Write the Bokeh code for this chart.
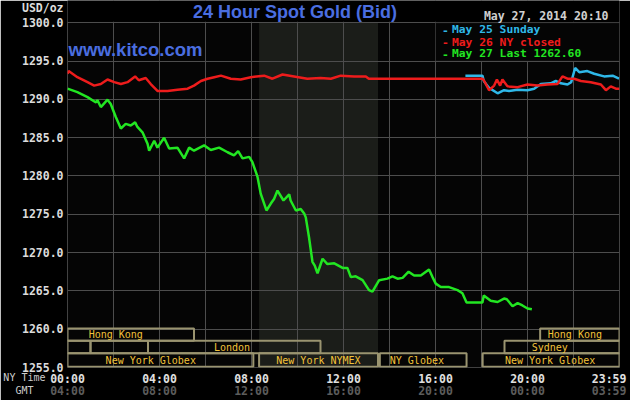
from bokeh.plotting import figure
from bokeh.models import (Range1d, LinearAxis, FixedTicker, BoxAnnotation, Label, Title,
                          PrintfTickFormatter, ColumnDataSource)
from bokeh.core.properties import value
from bokeh.embed import file_html
from bokeh.resources import INLINE

# ---------------- data ----------------
title_text = "24 Hour Spot Gold (Bid)"
site_text = "www.kitco.com"
date_text = "May 27, 2014 20:10"
y_unit = "USD/oz"
row_names = ["NY Time", "GMT"]

y_ticks = [1255, 1260, 1265, 1270, 1275, 1280, 1285, 1290, 1295, 1300]
ny_tick_hours = [0, 4, 8, 12, 16, 20, 23.55]
ny_tick_labels = ["00:00", "04:00", "08:00", "12:00", "16:00", "20:00", "23:59"]
gmt_tick_labels = ["04:00", "08:00", "12:00", "16:00", "20:00", "00:00", "03:59"]

legend_labels = ["May 25 Sunday", "May 26 NY closed", "May 27 Last 1262.60"]

# May 27 (green)
green_h = [0.0, 0.43, 0.87, 1.24, 1.3, 1.45, 1.74, 1.88, 2.1, 2.32,
           2.53, 2.75, 2.94, 3.04, 3.26, 3.48, 3.55, 3.77, 3.91, 4.2,
           4.42, 4.78, 5.07, 5.29, 5.5, 5.94, 6.23, 6.59, 6.96, 7.24,
           7.42, 7.61, 7.9, 8.04, 8.26, 8.4, 8.65, 8.84, 8.98, 9.13,
           9.39, 9.64, 9.7, 9.93, 10.14, 10.29, 10.36, 10.5, 10.65, 10.75,
           10.87, 11.09, 11.3, 11.6, 11.96, 12.17, 12.32, 12.53, 12.83, 13.11,
           13.26, 13.55, 13.91, 14.13, 14.35, 14.57, 14.83, 15.07, 15.36, 15.72,
           15.87, 16.01, 16.23, 16.59, 16.96, 17.17, 17.35, 18.04, 18.1, 18.4,
           18.7, 18.98, 19.1, 19.35, 19.57, 19.78, 20.0, 20.19]
green_p = [1291.4, 1290.95, 1290.3, 1289.6, 1289.9, 1289.0, 1289.96, 1289.4, 1287.7, 1286.2,
           1286.8, 1286.6, 1287.0, 1286.4, 1285.7, 1284.2, 1283.3, 1284.6, 1283.7, 1285.0,
           1283.6, 1283.7, 1282.3, 1283.7, 1283.3, 1284.0, 1283.4, 1283.7, 1283.1, 1282.7,
           1283.25, 1282.3, 1282.5, 1281.8, 1279.9, 1277.7, 1275.5, 1276.4, 1277.0, 1278.1,
           1276.8, 1277.6, 1276.8, 1275.5, 1275.7, 1275.1, 1274.6, 1272.0, 1268.8, 1268.3,
           1267.3, 1269.2, 1268.5, 1268.6, 1268.0, 1268.0, 1266.8, 1266.9, 1266.4, 1265.1,
           1264.9, 1266.4, 1266.6, 1266.9, 1266.6, 1266.7, 1267.5, 1267.0, 1267.0, 1267.8,
           1266.8, 1265.95, 1265.5, 1265.5, 1265.1, 1264.7, 1263.5, 1263.5, 1264.4, 1263.7,
           1263.55, 1264.0, 1263.9, 1263.0, 1263.4, 1263.1, 1262.7, 1262.6]

# May 26 (red)
red_h = [0.0, 0.05, 0.43, 0.87, 1.16, 1.45, 1.74, 2.03, 2.32, 2.61,
         2.94, 3.1, 3.4, 3.62, 3.91, 4.35, 4.78, 5.22, 5.5, 5.8,
         6.09, 6.38, 6.67, 7.1, 7.53, 7.97, 8.55, 8.91, 9.35, 9.85,
         10.43, 11.0, 11.45, 11.88, 12.46, 12.97, 13.1, 18.04, 18.1, 18.33,
         18.55, 18.67, 18.81, 18.91, 19.13, 19.57, 20.0, 20.43, 20.87, 21.3,
         21.52, 21.74, 22.03, 22.32, 22.75, 23.19, 23.41, 23.62, 23.84, 24.0]
red_p = [1293.35, 1293.7, 1292.9, 1292.25, 1291.8, 1292.0, 1292.6, 1292.25, 1292.0, 1292.25,
         1293.0, 1292.5, 1292.8, 1292.0, 1291.1, 1291.1, 1291.25, 1291.4, 1291.8, 1292.4,
         1292.7, 1292.9, 1293.1, 1292.7, 1292.6, 1292.9, 1293.1, 1292.7, 1293.25, 1293.0,
         1292.7, 1292.8, 1292.7, 1293.1, 1293.0, 1293.0, 1292.7, 1292.7, 1292.5, 1291.2,
         1291.8, 1292.6, 1291.8, 1292.6, 1291.7, 1291.6, 1291.95, 1291.8, 1291.95, 1292.0,
         1293.0, 1292.7, 1292.7, 1292.4, 1292.25, 1291.95, 1291.2, 1291.7, 1291.4, 1291.4]

# May 25 (blue)
blue_h = [17.3, 18.04, 18.1, 18.33, 18.7, 18.98, 19.2, 19.57, 20.0, 20.29,
          20.58, 21.01, 21.23, 21.45, 21.74, 21.9, 22.07, 22.25, 22.6, 22.9,
          23.33, 23.7, 23.98]
blue_p = [1293.1, 1293.1, 1292.4, 1291.5, 1290.8, 1291.2, 1291.1, 1291.25, 1291.2, 1291.4,
          1292.0, 1292.1, 1292.4, 1292.1, 1291.95, 1292.25, 1294.1, 1293.55, 1293.7, 1293.35,
          1293.0, 1293.1, 1292.7]

# market sessions (hours NY time)
session_start = [0.0, 20.55, 0.0, 1.0, 3.5, 19.0, 0.0, 8.33, 13.58, 18.05]
session_end = [5.5, 24.0, 1.0, 3.5, 11.0, 24.0, 8.08, 13.5, 17.35, 24.0]
session_row = [0, 0, 1, 1, 1, 1, 2, 2, 2, 2]
session_label = ["Hong Kong", "Hong Kong", "", "", "London", "Sydney",
                 "New York Globex", "New York NYMEX", "NY Globex", "New York Globex"]
nymex_open, nymex_close = 8.33, 13.5

# ---------------- layout / style ----------------
W, H = 630, 400
FL, FR, FB = 67, 619, 367            # frame left / right / bottom in pixels (top = 0)
Y_LO = 1255
Y_HI = 1302.91                       # puts 1300 at ~22 px from the top
PXU = FB / (Y_HI - Y_LO)             # pixels per USD
PXH = (FR - FL) / 24.0               # pixels per hour


def hx(X):
    return (X - FL) / PXH


def py(Y):
    return Y_HI - Y / PXU


MONO = "DejaVu Sans Mono"
GRID = "#4d4d4d"
BLUE_T = "#4a6ee0"
C_BLUE, C_RED, C_GREEN = "#2fb8e8", "#ee1c1c", "#22e622"
SESS_LINE, SESS_TEXT = "#9a9470", "#f2c23a"
row_top = [1260.1, 1258.5, 1256.85]
row_bot = [1258.5, 1256.85, 1255.1]
label_x = [2.1, 22.06, 0, 0, 7.15, 20.97, 3.62, 10.91, 15.19, 20.98]
usd_tick = round(py(8), 3)

p = figure(width=W, height=H, output_backend="svg", toolbar_location=None,
           x_range=Range1d(0, 24), y_range=Range1d(Y_LO, Y_HI),
           background_fill_color="#050505", border_fill_color="#000000",
           min_border_left=FL, min_border_top=0, min_border_right=W - FR,
           min_border_bottom=H - FB, outline_line_color=None)

# grid
p.xgrid.ticker = FixedTicker(ticks=list(range(0, 25, 2)))
p.ygrid.ticker = FixedTicker(ticks=y_ticks)
for g in (p.xgrid[0], p.ygrid[0]):
    g.grid_line_color = GRID
    g.grid_line_alpha = 1.0

# y axis (the unit sits above the top tick)
ya = p.yaxis[0]
ya.ticker = FixedTicker(ticks=y_ticks + [usd_tick])
ya.formatter = PrintfTickFormatter(format="%.1f")
ya.major_label_overrides = {usd_tick: y_unit}
ya.axis_line_color = None
ya.major_tick_line_color = None
ya.minor_tick_line_color = None
ya.major_tick_out = 0
ya.major_tick_in = 0
ya.major_label_standoff = 4
ya.major_label_text_font = MONO
ya.major_label_text_font_style = "bold"
ya.major_label_text_font_size = "11.5px"
ya.major_label_text_color = "#dcdcdc"

# row names at the lower left (a zero-height title before the time axes)
corner = Title(text="\n\n\n" + row_names[0] + "\n\u00a0\u00a0" + row_names[1],
               align="right", offset=FR - 45, vertical_align="top", standoff=-67,
               text_font=MONO, text_font_size="10px", text_font_style="normal",
               text_color="#cccccc", text_line_height=1.154)
p.below.insert(0, corner)

# x axes (NY time and GMT)
xa = p.xaxis[0]
gmt = LinearAxis()
p.add_layout(gmt, "below")
for ax, labels, col, so in ((xa, ny_tick_labels, "#e0e0e0", 4), (gmt, gmt_tick_labels, "#5c5c5c", -5)):
    ax.ticker = FixedTicker(ticks=ny_tick_hours)
    ax.major_label_overrides = {h: lab for h, lab in zip(ny_tick_hours, labels)}
    ax.axis_line_color = None
    ax.major_tick_line_color = None
    ax.minor_tick_line_color = None
    ax.major_tick_out = 0
    ax.major_tick_in = 0
    ax.axis_label_standoff = 0
    ax.major_label_standoff = so
    ax.major_label_text_font = MONO
    ax.major_label_text_font_style = "bold"
    ax.major_label_text_font_size = "11.5px"
    ax.major_label_text_color = col

# NYMEX shaded period (under the grid)
p.add_layout(BoxAnnotation(left=nymex_open, right=nymex_close, bottom=Y_LO, top=1300,
                           fill_color="#1b1d19", fill_alpha=1.0, line_color=None, level="image"))
# blank band above the chart (hides the grid there)
p.add_layout(BoxAnnotation(bottom=1300.12, fill_color="#000000", fill_alpha=1.0,
                           line_color=None, level="underlay"))

# session boxes
src = ColumnDataSource(dict(
    left=session_start, right=session_end,
    top=[row_top[r] for r in session_row], bottom=[row_bot[r] for r in session_row],
    lx=label_x, ly=[(row_top[r] + row_bot[r]) / 2 for r in session_row],
    text=session_label))
p.quad(left="left", right="right", top="top", bottom="bottom", source=src,
       fill_color=None, line_color=SESS_LINE, line_width=2)
p.text(x="lx", y="ly", text="text", source=src, text_font=value(MONO),
       text_font_size="10px", text_color=SESS_TEXT, text_align="center",
       text_baseline="middle")

# price lines
p.line(blue_h, blue_p, line_color=C_BLUE, line_width=2.5)
p.line(red_h, red_p, line_color=C_RED, line_width=2.5)
p.line(green_h, green_p, line_color=C_GREEN, line_width=2.5)

# legend box
p.add_layout(BoxAnnotation(left=16, right=24, bottom=1295, top=1300,
                           fill_color="#050505", fill_alpha=1.0,
                           line_color=GRID, line_width=1))


def lab(X, Y, text, size, color, font=MONO, style="normal", align="left"):
    p.add_layout(Label(x=hx(X), y=py(Y), text=text, text_font=font,
                       text_font_size=size, text_color=color,
                       text_font_style=style, text_align=align,
                       text_baseline="middle"))


for yy, txt, col in zip([29.3, 41.7, 53.3], legend_labels, [C_BLUE, C_RED, C_GREEN]):
    lab(445, yy, "-", "11.3px", col, style="bold", align="center")
    lab(451.5, yy, txt, "11.3px", col, style="bold")

lab(294.5, 11.5, title_text, "18px", BLUE_T, font="Liberation Sans", style="bold", align="center")
lab(68, 49, site_text, "18.5px", BLUE_T, font="Liberation Sans", style="bold")
lab(608, 15, date_text, "11.5px", "#d0d0d0", style="bold", align="right")

open("out.html", "w").write(file_html(p, INLINE))
